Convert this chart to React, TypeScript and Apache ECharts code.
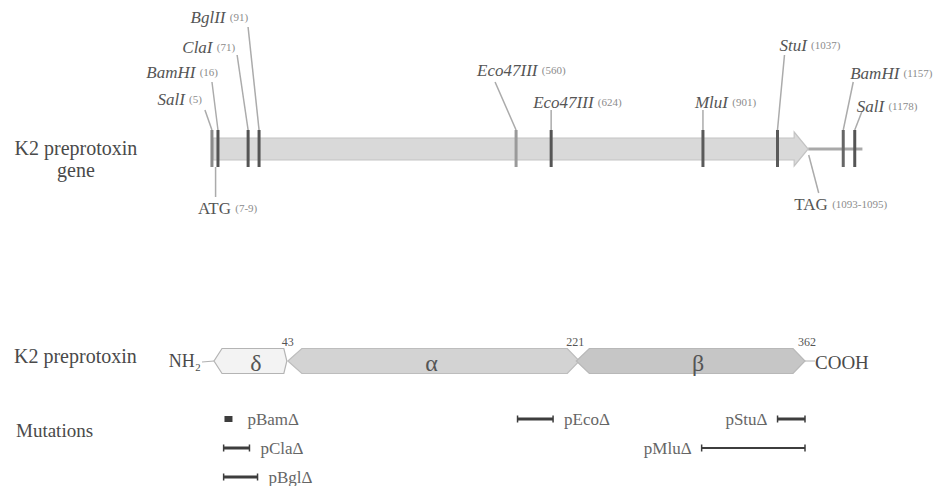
import React, { useEffect, useRef } from "react";
import * as echarts from "echarts";

// ---------- Gene (bp) ----------
const orfStart = 7;
const orfEnd = 1093;
const flankEnd = 1192;
const siteNames = ["SalI", "BamHI", "ClaI", "BglII", "Eco47III", "Eco47III", "MluI", "StuI", "BamHI", "SalI"];
const sitePositions = [5, 16, 71, 91, 560, 624, 901, 1037, 1157, 1178];
const codonNames = ["ATG", "TAG"];
const codonStarts = [7, 1093];
const codonEnds = [9, 1095];

// ---------- Protein (aa) ----------
const domainNames = ["δ", "α", "β"];
const domainStarts = [1, 43, 221];
const domainEnds = [43, 221, 362];

// ---------- Mutations (aa) ----------
const mutationNames = ["pBamΔ", "pClaΔ", "pBglΔ", "pEcoΔ", "pStuΔ", "pMluΔ"];
const mutationStarts = [5, 2, 2, 184, 345, 298];
const mutationEnds = [5, 18, 23, 206, 362, 362];
const mutationRows = [0, 1, 2, 0, 0, 1];

// ---------- Layout / style (not data) ----------
const FONT = "'Liberation Serif', 'Times New Roman', serif";
const SITE_LAYOUT = [
  { tx: -10, ty: -50, align: "right", ldx: -7, ldy: -39, mark: "#8a8a8a" },
  { tx: 0, ty: -77, align: "right", ldx: -6, ldy: -67, mark: "#555" },
  { tx: -13, ty: -102, align: "right", ldx: -11, ldy: -94, mark: "#555" },
  { tx: -11, ty: -132, align: "right", ldx: -11, ldy: -122, mark: "#555" },
  { tx: -39, ty: -79, align: "left", ldx: -21, ldy: -67, mark: "#9a9a9a" },
  { tx: -18, ty: -47, align: "left", ldx: 0, ldy: -39, mark: "#555" },
  { tx: -8, ty: -47, align: "left", ldx: 0, ldy: -39, mark: "#5a5a5a" },
  { tx: 2, ty: -104, align: "left", ldx: 7, ldy: -94, mark: "#5a5a5a" },
  { tx: 7, ty: -76, align: "left", ldx: 10, ldy: -67, mark: "#666" },
  { tx: 2, ty: -43, align: "left", ldx: 7, ldy: -37, mark: "#555" },
];
const CODON_LAYOUT = [
  { l1: [2, 18], l2: [2, 48], t: [14, 59] },
  { l1: [0, 6], l2: [10, 44], t: [32, 55] },
];
const DOMAIN_SHAPE = [
  { lt: -8, lc: 0, rc: -6, rt: -3, fill: "#f3f3f3", stroke: "#b4b4b4", dx: 0 },
  { lt: -2, lc: 12, rc: -10, rt: 2, fill: "#d3d3d3", stroke: "#bdbdbd", dx: -2 },
  { lt: -1, lc: 12, rc: -12, rt: 0, fill: "#c6c6c6", stroke: "#b8b8b8", dx: 7 },
];
const MUT_SIDE = ["right", "right", "right", "right", "left", "left"];
const MUT_WIDTH = [3, 3, 3, 3, 3, 2];

const richSite = {
  e: { fontFamily: FONT, fontStyle: "italic", fontSize: 17, fill: "#555555" },
  n: { fontFamily: FONT, fontSize: 11, fill: "#8c8c8c" },
  r: { fontFamily: FONT, fontSize: 17, fill: "#555555" },
};

function txt(text: string, x: number, y: number, align: string, extra: any = {}) {
  return {
    type: "text",
    style: {
      text,
      x,
      y,
      align,
      textAlign: align,
      verticalAlign: "middle",
      textVerticalAlign: "middle",
      fontFamily: FONT,
      fontSize: 19,
      fill: "#4a4a4a",
      ...extra,
    },
  };
}

const option: any = {
  animation: false,
  backgroundColor: "#ffffff",
  grid: [
    { left: 209.2, width: 657.6, top: 99, height: 100 },
    { left: 220.4, width: 584.6, top: 361, height: 116 },
  ],
  xAxis: [
    { type: "value", gridIndex: 0, min: 0, max: 1200, show: false },
    { type: "value", gridIndex: 1, min: 0, max: 362, show: false },
  ],
  yAxis: [
    { type: "value", gridIndex: 0, min: -1, max: 1, show: false },
    { type: "value", gridIndex: 1, min: -2, max: 2, inverse: true, show: false },
  ],
  graphic: [
    txt("K2 preprotoxin\ngene", 76, 159, "center", { lineHeight: 22, fontSize: 20 }),
    txt("K2 preprotoxin", 14, 356, "left", { fontSize: 20 }),
    txt("Mutations", 16, 430, "left"),
  ],
  series: [
    // gene body
    {
      type: "custom",
      xAxisIndex: 0,
      yAxisIndex: 0,
      silent: true,
      data: [[orfStart, 0, orfEnd, flankEnd]],
      renderItem: (_p: any, api: any) => {
        const [xs, yc] = api.coord([api.value(0), 0]);
        const xe = api.coord([api.value(2), 0])[0];
        const xf = api.coord([api.value(3), 0])[0];
        const bh = 11, hh = 17, hl = 14;
        return {
          type: "group",
          children: [
            { type: "line", shape: { x1: xe, y1: yc, x2: xf, y2: yc }, style: { stroke: "#a9a9a9", lineWidth: 3 } },
            {
              type: "polygon",
              shape: {
                points: [
                  [xs, yc - bh], [xe - hl, yc - bh], [xe - hl, yc - hh], [xe, yc],
                  [xe - hl, yc + hh], [xe - hl, yc + bh], [xs, yc + bh],
                ],
              },
              style: { fill: "#d9d9d9", stroke: "#c3c3c3", lineWidth: 1.2 },
            },
          ],
        };
      },
    },
    // restriction sites
    {
      type: "custom",
      xAxisIndex: 0,
      yAxisIndex: 0,
      silent: true,
      data: sitePositions.map((p, i) => [p, 0, i]),
      renderItem: (_p: any, api: any) => {
        const i = api.value(2);
        const [x, yc] = api.coord([api.value(0), 0]);
        const L = SITE_LAYOUT[i];
        return {
          type: "group",
          children: [
            {
              type: "line",
              shape: { x1: x + L.ldx, y1: yc + L.ldy, x2: x, y2: yc - 19 },
              style: { stroke: "#ababab", lineWidth: 1.5 },
            },
            { type: "rect", shape: { x: x - 1.5, y: yc - 19, width: 3, height: 37 }, style: { fill: L.mark } },
            {
              type: "text",
              style: {
                text: `{e|${siteNames[i]}} {n|(${sitePositions[i]})}`,
                x: x + L.tx,
                y: yc + L.ty,
                align: L.align,
                textAlign: L.align,
                verticalAlign: "middle",
                textVerticalAlign: "middle",
                fontFamily: FONT,
                fontSize: 17,
                fill: "#555555",
                rich: richSite,
              },
            },
          ],
        };
      },
    },
    // start / stop codons
    {
      type: "custom",
      xAxisIndex: 0,
      yAxisIndex: 0,
      silent: true,
      data: codonStarts.map((s, i) => [(s + codonEnds[i]) / 2, 0, i]),
      renderItem: (_p: any, api: any) => {
        const i = api.value(2);
        const [x, yc] = api.coord([api.value(0), 0]);
        const L = CODON_LAYOUT[i];
        return {
          type: "group",
          children: [
            {
              type: "line",
              shape: { x1: x + L.l1[0], y1: yc + L.l1[1], x2: x + L.l2[0], y2: yc + L.l2[1] },
              style: { stroke: "#ababab", lineWidth: 1.5 },
            },
            {
              type: "text",
              style: {
                text: `{r|${codonNames[i]}} {n|(${codonStarts[i]}-${codonEnds[i]})}`,
                x: x + L.t[0],
                y: yc + L.t[1],
                align: "center",
                textAlign: "center",
                verticalAlign: "middle",
                textVerticalAlign: "middle",
                fontFamily: FONT,
                fontSize: 17,
                fill: "#555555",
                rich: richSite,
              },
            },
          ],
        };
      },
    },
    // protein domains
    {
      type: "custom",
      xAxisIndex: 1,
      yAxisIndex: 1,
      silent: true,
      data: domainStarts.map((s, i) => [s, -2, domainEnds[i], i]),
      renderItem: (_p: any, api: any) => {
        const i = api.value(3);
        const [xs, yc] = api.coord([api.value(0), api.value(1)]);
        const xe = api.coord([api.value(2), api.value(1)])[0];
        const S = DOMAIN_SHAPE[i];
        const h = 12.5;
        const children: any[] = [
          {
            type: "polygon",
            shape: {
              points: [
                [xs + S.lc, yc - h], [xe + S.rc, yc - h], [xe + S.rt, yc],
                [xe + S.rc, yc + h], [xs + S.lc, yc + h], [xs + S.lt, yc],
              ],
            },
            style: { fill: S.fill, stroke: S.stroke, lineWidth: 1.2 },
          },
          txt(domainNames[i], (xs + xe) / 2 + S.dx, yc + 2, "center", { fontSize: 24, fill: "#555555" }),
          txt(String(domainEnds[i]), xe + (i === 2 ? 2 : -2), yc - 19, "center", { fontSize: 12, fill: "#555555" }),
        ];
        if (i === 0) {
          children.push({
            type: "line",
            shape: { x1: xs - 20, y1: yc + 1, x2: xs + S.lt, y2: yc },
            style: { stroke: "#b0b0b0", lineWidth: 1 },
          });
          children.push(txt("NH₂", xs - 21, yc, "right", { fontSize: 18 }));
        }
        if (i === domainNames.length - 1) {
          children.push({
            type: "line",
            shape: { x1: xe, y1: yc, x2: xe + 10, y2: yc },
            style: { stroke: "#b0b0b0", lineWidth: 1 },
          });
          children.push(txt("COOH", xe + 10, yc + 1, "left", { fontSize: 19 }));
        }
        return { type: "group", children };
      },
    },
    // mutations
    {
      type: "custom",
      xAxisIndex: 1,
      yAxisIndex: 1,
      silent: true,
      data: mutationStarts.map((s, i) => [s, mutationRows[i], mutationEnds[i], i]),
      renderItem: (_p: any, api: any) => {
        const i = api.value(3);
        const [xs, y] = api.coord([api.value(0), api.value(1)]);
        const xe = api.coord([api.value(2), api.value(1)])[0];
        const children: any[] = [];
        const col = "#3d3d3d";
        let lx: number;
        let align: string;
        if (xe - xs < 1) {
          children.push({ type: "rect", shape: { x: xs - 4, y: y - 3, width: 8, height: 6 }, style: { fill: col } });
          lx = xs + 19;
          align = "left";
        } else {
          const w = MUT_WIDTH[i];
          children.push({ type: "line", shape: { x1: xs, y1: y, x2: xe, y2: y }, style: { stroke: col, lineWidth: w } });
          children.push({ type: "line", shape: { x1: xs, y1: y - 3.5, x2: xs, y2: y + 3.5 }, style: { stroke: col, lineWidth: 1.5 } });
          children.push({ type: "line", shape: { x1: xe, y1: y - 3.5, x2: xe, y2: y + 3.5 }, style: { stroke: col, lineWidth: 1.5 } });
          if (MUT_SIDE[i] === "right") {
            lx = xe + 11;
            align = "left";
          } else {
            lx = xs - 10;
            align = "right";
          }
        }
        children.push(txt(mutationNames[i], lx, y, align, { fontSize: 17, fill: "#666666" }));
        return { type: "group", children };
      },
    },
  ],
};

export default function App() {
  const ref = useRef<HTMLDivElement>(null);
  useEffect(() => {
    if (!ref.current) return;
    const chart = echarts.init(ref.current, null, { renderer: "svg" });
    chart.setOption(option);
    return () => chart.dispose();
  }, []);
  return (
    <div
      ref={ref}
      style={{ position: "absolute", left: 0, top: 0, width: 944, height: 486, background: "#fff" }}
    />
  );
}
